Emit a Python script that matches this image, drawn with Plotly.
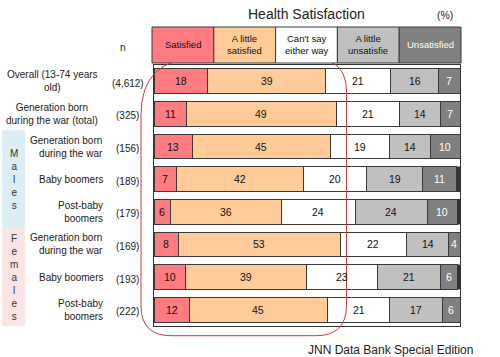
import plotly.graph_objects as go

# ---------------- data ----------------
row_labels = ["Overall (13-74 years<br>old)", "Generation born<br>during the war (total)",
              "Generation born<br>during the war", "Baby boomers", "Post-baby<br>boomers",
              "Generation born<br>during the war", "Baby boomers", "Post-baby<br>boomers"]
n_labels = ["(4,612)", "(325)", "(156)", "(189)", "(179)", "(169)", "(193)", "(222)"]
groups = ["", "", "Males", "Males", "Males", "Females", "Females", "Females"]

categories = ["Satisfied", "A little<br>satisfied", "Can't say<br>either way",
              "A little<br>unsatisfie", "Unsatisfied"]

# bar lengths (%)
satisfied = [17.5, 10.5, 12.5, 7.4, 5.5, 8.1, 10.2, 11.5]
little_satisfied = [38.7, 49.0, 45.1, 41.6, 36.2, 52.7, 39.5, 45.1]
cant_say = [21.1, 20.6, 19.2, 20.5, 24.0, 21.8, 23.2, 20.5]
little_unsatisfied = [15.8, 13.4, 13.6, 18.3, 23.6, 13.7, 20.7, 17.1]
unsatisfied = [6.9, 6.5, 9.6, 11.1, 9.8, 3.7, 5.5, 5.8]
no_answer = [0, 0, 0, 1.1, 0.9, 0, 0.9, 0]

# printed labels (%)
satisfied_lbl = [18, 11, 13, 7, 6, 8, 10, 12]
little_satisfied_lbl = [39, 49, 45, 42, 36, 53, 39, 45]
cant_say_lbl = [21, 21, 19, 20, 24, 22, 23, 21]
little_unsatisfied_lbl = [16, 14, 14, 19, 24, 14, 21, 17]
unsatisfied_lbl = [7, 7, 10, 11, 10, 4, 6, 6]

colors = ["#ff7c80", "#ffcc99", "#ffffff", "#c0c0c0", "#808080"]
text_colors = ["#111111", "#111111", "#111111", "#111111", "#ffffff"]

# ---------------- layout geometry ----------------
W, H = 500, 357
ML, MR, MT, MB = 152, 39, 27, 31
PW, PH = W - ML - MR, H - MT - MB


def px2x(px):
    return (px - ML) / PW


def px2y(py):
    return (H - MB - py) / PH


FONT = "Liberation Sans, Arial, sans-serif"
TXT = "#222222"
y_idx = list(range(len(row_labels)))

fig = go.Figure()
series = [(satisfied, satisfied_lbl), (little_satisfied, little_satisfied_lbl),
          (cant_say, cant_say_lbl), (little_unsatisfied, little_unsatisfied_lbl),
          (unsatisfied, unsatisfied_lbl)]
for k, (vals, lbls) in enumerate(series):
    fig.add_trace(go.Bar(
        y=y_idx, x=vals, orientation="h", width=0.76,
        marker=dict(color=colors[k], line=dict(color="#3a3a3a", width=1)),
        hoverinfo="skip", showlegend=False))
fig.add_trace(go.Bar(
    y=y_idx, x=no_answer, orientation="h", width=0.76,
    marker=dict(color="#333333", line=dict(color="#333333", width=0.5)),
    hoverinfo="skip", showlegend=False))

plot_top_px = 65
fig.update_layout(
    width=W, height=H, barmode="stack",
    margin=dict(l=ML, r=MR, t=MT, b=MB, autoexpand=False),
    paper_bgcolor="white", plot_bgcolor="white",
    font=dict(family=FONT, color=TXT),
    xaxis=dict(domain=[px2x(154), px2x(460)], range=[0, 100], showticklabels=False,
               ticks="", showgrid=False, zeroline=False, showline=True, mirror=True,
               linecolor="#333333", linewidth=1, fixedrange=True),
    yaxis=dict(domain=[0, px2y(plot_top_px)], range=[7.5, -0.5], showticklabels=False,
               ticks="", showgrid=False, zeroline=False, showline=True, mirror=True,
               linecolor="#333333", linewidth=1, fixedrange=True),
)

y_dom_top = px2y(plot_top_px)


def row_edge(v):
    # paper y of a data y value (reversed axis range 7.5 .. -0.5)
    return y_dom_top * (7.5 - v) / 8.0


shapes = []
# group side blocks
for name, col in (("Males", "#daeef3"), ("Females", "#fde4e4")):
    rows = [i for i, g in enumerate(groups) if g == name]
    shapes.append(dict(type="rect", xref="paper", yref="paper", layer="below",
                       x0=px2x(2), x1=px2x(25), y0=row_edge(max(rows) + 0.5),
                       y1=row_edge(min(rows) - 0.5), fillcolor=col, line=dict(width=0)))


def P(px, py):
    return f"{px2x(px):.5f},{px2y(py):.5f}"


red_path = ("M " + P(141, 115) + " Q " + P(141, 58) + " " + P(200, 58) +
            " L " + P(314, 59) + " Q " + P(346.5, 59) + " " + P(346.5, 92) +
            " L " + P(346.5, 305.5) + " Q " + P(346.5, 335.7) + " " + P(316, 335.7) +
            " L " + P(171, 335.7) + " Q " + P(141, 335.7) + " " + P(141, 305.7) + " Z")
shapes.append(dict(type="path", xref="paper", yref="paper", layer="above", path=red_path,
                   line=dict(color="#cc3a3a", width=1), fillcolor="rgba(0,0,0,0)"))

# header legend boxes (drawn after the red outline so they cover it)
hy0, hy1 = px2y(63), px2y(27)
ncat = len(categories)
for k in range(ncat):
    shapes.append(dict(type="rect", xref="paper", yref="paper", layer="above",
                       x0=k / ncat, x1=(k + 1) / ncat, y0=hy0, y1=hy1,
                       fillcolor=colors[k], line=dict(color="#3a3a3a", width=1)))
fig.update_layout(shapes=shapes)

ann = []
# segment value labels, centred on each stacked segment
for i in y_idx:
    start = 0.0
    for k, (vals, lbls) in enumerate(series):
        ann.append(dict(xref="x", yref="y", x=start + vals[i] / 2, y=i, text=str(lbls[i]),
                        showarrow=False, xanchor="center", yanchor="middle",
                        font=dict(size=10.5, color=text_colors[k], family=FONT)))
        start += vals[i]

for k, c in enumerate(categories):
    ann.append(dict(xref="paper", yref="paper", x=(k + 0.5) / ncat, y=(hy0 + hy1) / 2,
                    text=c, showarrow=False, xanchor="center", yanchor="middle",
                    font=dict(size=9.5, color=text_colors[k], family=FONT)))

ann.append(dict(xref="paper", yref="paper", x=px2x(306), y=px2y(14), text="Health Satisfaction",
                showarrow=False, xanchor="center", yanchor="middle",
                font=dict(size=14, color=TXT, family=FONT)))
ann.append(dict(xref="paper", yref="paper", x=px2x(445), y=px2y(15), text="(%)",
                showarrow=False, xanchor="center", yanchor="middle",
                font=dict(size=10.5, color=TXT, family=FONT)))
ann.append(dict(xref="paper", yref="paper", x=px2x(123), y=px2y(48), text="n",
                showarrow=False, xanchor="center", yanchor="middle",
                font=dict(size=10, color=TXT, family=FONT)))

for i, (lab, nl, g) in enumerate(zip(row_labels, n_labels, groups)):
    if g == "":
        ann.append(dict(xref="paper", yref="y", x=px2x(52), y=i, text=lab, showarrow=False,
                        xanchor="center", yanchor="middle", align="center",
                        font=dict(size=10, color=TXT, family=FONT)))
    else:
        ann.append(dict(xref="paper", yref="y", x=px2x(105), y=i, text=lab, showarrow=False,
                        xanchor="right", yanchor="middle", align="right",
                        font=dict(size=10, color=TXT, family=FONT)))
    ann.append(dict(xref="paper", yref="y", x=px2x(127.5), y=i, yshift=-2, text=nl,
                    showarrow=False, xanchor="center", yanchor="middle",
                    font=dict(size=10, color=TXT, family=FONT)))

for name in ("Males", "Females"):
    rows = [i for i, g in enumerate(groups) if g == name]
    ann.append(dict(xref="paper", yref="y", x=px2x(13.5), y=sum(rows) / len(rows),
                    text="<br>".join(name), showarrow=False, xanchor="center",
                    yanchor="middle", align="center",
                    font=dict(size=10, color="#333333", family=FONT)))

ann.append(dict(xref="paper", yref="paper", x=px2x(390), y=px2y(350),
                text="JNN Data Bank Special Edition", showarrow=False,
                xanchor="center", yanchor="middle",
                font=dict(size=12, color=TXT, family=FONT)))
fig.update_layout(annotations=ann)

fig.write_html("out.html", config={"displayModeBar": False},
               post_script="document.body.style.margin='0px';")
